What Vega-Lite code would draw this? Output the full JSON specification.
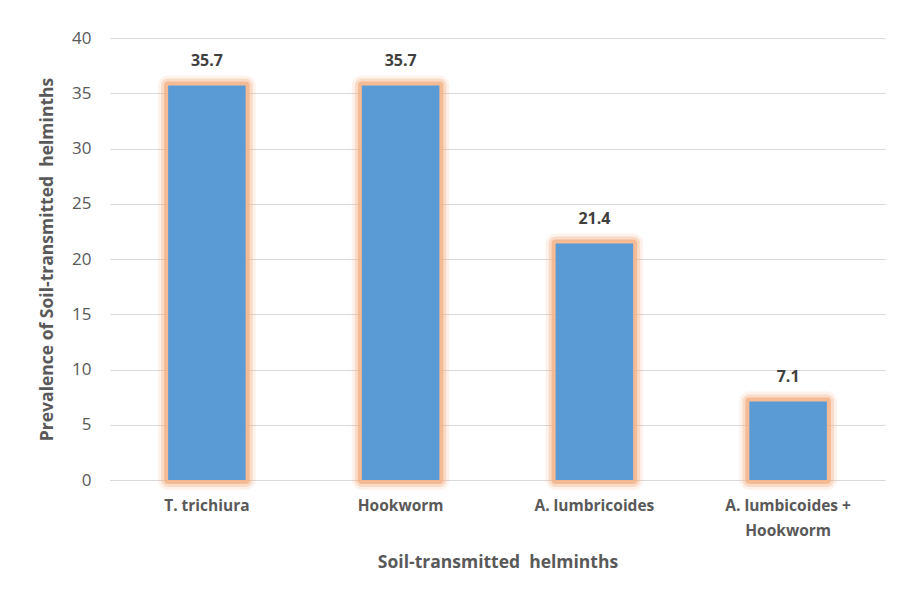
{
  "$schema": "https://vega.github.io/schema/vega-lite/v6.json",
  "autosize": {"type": "none"},
  "width": 775,
  "height": 442,
  "padding": {"left": 110, "top": 38, "right": 12, "bottom": 121},
  "background": "white",
  "data": {"values": [
    {"helminth": "T. trichiura", "prevalence": 35.7},
    {"helminth": "Hookworm", "prevalence": 35.7},
    {"helminth": "A. lumbricoides", "prevalence": 21.4},
    {"helminth": "A. lumbicoides + Hookworm", "prevalence": 7.1}
  ]},
  "encoding": {
    "x": {
      "field": "helminth", "type": "nominal", "sort": null,
      "scale": {"paddingInner": 0.6, "paddingOuter": 0.3},
      "axis": {
        "title": "Soil-transmitted\u00a0\u00a0helminths",
        "labelAngle": 0,
        "labelPadding": 18,
        "labelExpr": "datum.label == 'A. lumbicoides + Hookworm' ? ['A. lumbicoides +', 'Hookworm'] : datum.label",
        "labelLineHeight": 25,
        "titlePadding": 15
      }
    },
    "y": {
      "field": "prevalence", "type": "quantitative",
      "scale": {"domain": [0, 40]},
      "axis": {
        "title": "Prevalence of Soil-transmitted\u00a0\u00a0helminths",
        "values": [0, 5, 10, 15, 20, 25, 30, 35, 40],
        "labelPadding": 19,
        "titlePadding": 15,
        "labelFontWeight": "normal",
        "labelFontSize": 17,
        "labelColor": "#595959",
        "domain": false
      }
    }
  },
  "layer": [
    {"mark": {"type": "bar", "fill": "#F4B183", "stroke": "#F4B183", "strokeWidth": 20, "strokeJoin": "round", "opacity": 0.15}},
    {"mark": {"type": "bar", "fill": "#F4B183", "stroke": "#F4B183", "strokeWidth": 14, "strokeJoin": "round", "opacity": 0.35}},
    {"mark": {"type": "bar", "fill": "#F4B183", "stroke": "#F4B183", "strokeWidth": 8, "strokeJoin": "round", "opacity": 0.75}},
    {"mark": {"type": "bar", "fill": "#5B9BD5"}},
    {
      "mark": {"type": "text", "dy": -25, "fontWeight": "bold", "fontSize": 16, "color": "#404040", "font": "Open Sans"},
      "encoding": {"text": {"field": "prevalence", "type": "quantitative", "format": ".1f"}}
    }
  ],
  "config": {
    "font": "Open Sans",
    "view": {"stroke": null},
    "axis": {
      "grid": true,
      "gridColor": "#D9D9D9",
      "domainColor": "#D9D9D9",
      "ticks": false,
      "labelFont": "Open Sans",
      "labelFontSize": 15.5,
      "labelFontWeight": "bold",
      "labelColor": "#595959",
      "titleFont": "Open Sans",
      "titleFontSize": 17.5,
      "titleFontWeight": "bold",
      "titleColor": "#595959"
    },
    "axisX": {"grid": false}
  }
}
